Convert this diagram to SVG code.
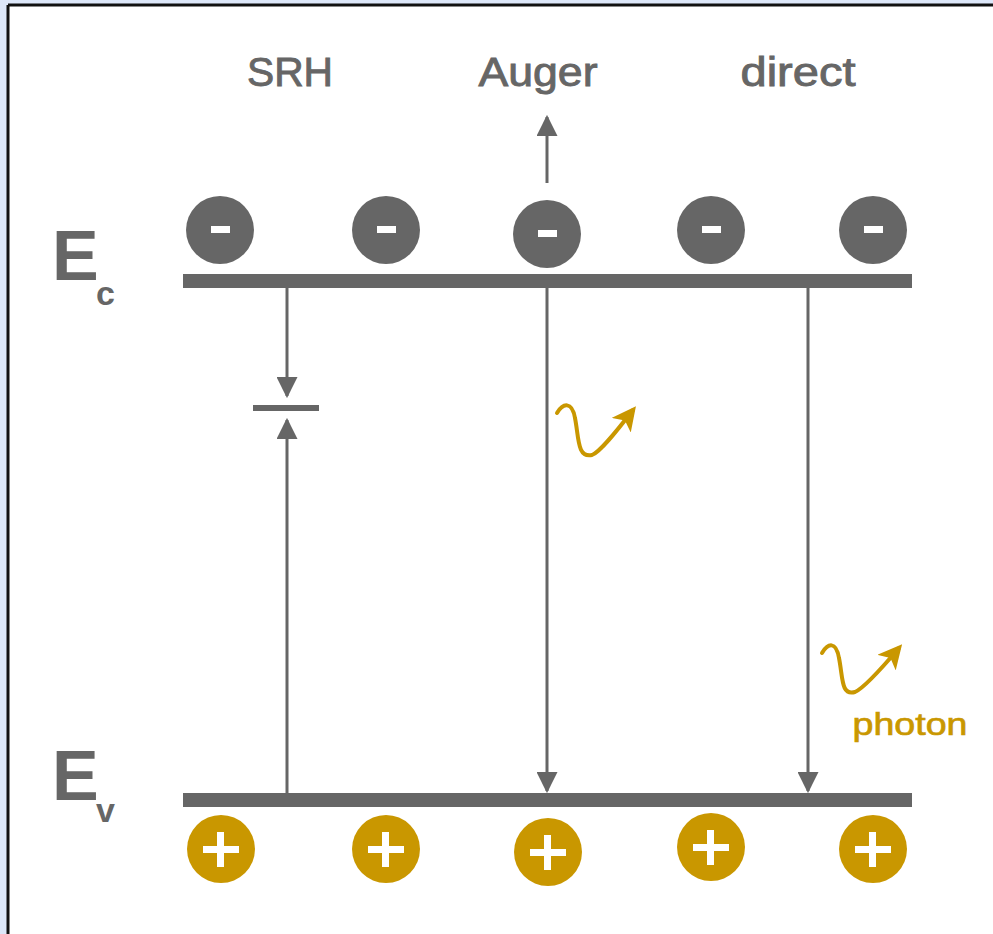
<svg xmlns="http://www.w3.org/2000/svg" width="993" height="934" viewBox="0 0 993 934">
<defs>
<style>
.lbl{font-family:"Liberation Sans",Arial,sans-serif;fill:#666;}
.top{stroke:#666;stroke-width:0.9;}
.bar{fill:#666;}
.el{fill:#666;}
.hole{fill:#c99700;}
.wht{fill:#fff;}
.ln{stroke:#666;stroke-width:3;fill:none;}
.ph{stroke:#c99700;stroke-width:4;fill:none;stroke-linecap:round;stroke-linejoin:round;}
</style>
<marker id="ah" viewBox="0 0 10 10" refX="9" refY="5" markerWidth="7" markerHeight="7" markerUnits="strokeWidth" orient="auto">
<path d="M0,0 L10,5 L0,10 Z" fill="#666"/>
</marker>
<marker id="ahp" viewBox="0 0 10 10" refX="8" refY="5" markerWidth="6" markerHeight="6" markerUnits="strokeWidth" orient="auto">
<path d="M0,0 L10,5 L0,10 L2.5,5 Z" fill="#c99700"/>
</marker>
</defs>
<rect x="0" y="0" width="993" height="934" fill="#dde7f9"/>
<rect x="8" y="5" width="985" height="929" fill="#fff"/>
<line x1="8" y1="5" x2="993" y2="5" stroke="#111" stroke-width="3"/>
<line x1="8" y1="5" x2="8" y2="934" stroke="#111" stroke-width="3"/>

<g id="labels">
<text class="lbl top" x="290" y="86" font-size="40" text-anchor="middle" textLength="86" lengthAdjust="spacingAndGlyphs">SRH</text>
<text class="lbl top" x="538" y="86" font-size="40" text-anchor="middle" textLength="119" lengthAdjust="spacingAndGlyphs">Auger</text>
<text class="lbl top" x="798" y="86" font-size="40" text-anchor="middle" textLength="115" lengthAdjust="spacingAndGlyphs">direct</text>
</g>

<g id="Ec">
<rect class="bar" x="183" y="274" width="729" height="14"/>
<text class="lbl" x="52" y="280" font-size="70" font-weight="bold">E</text>
<text class="lbl" x="96" y="305" font-size="34" font-weight="bold">c</text>
</g>
<g id="Ev">
<rect class="bar" x="183" y="793" width="729" height="14"/>
<text class="lbl" x="52" y="800" font-size="70" font-weight="bold">E</text>
<text class="lbl" x="96" y="822" font-size="34" font-weight="bold">v</text>
</g>

<g id="electrons">
<g id="e1"><circle class="el" cx="220" cy="230" r="34"/><rect class="wht" x="211" y="226" width="19" height="7"/></g>
<g id="e2"><circle class="el" cx="386" cy="230" r="34"/><rect class="wht" x="377" y="226" width="19" height="7"/></g>
<g id="e3"><circle class="el" cx="547" cy="234" r="34"/><rect class="wht" x="538" y="230" width="19" height="7"/></g>
<g id="e4"><circle class="el" cx="711" cy="230" r="34"/><rect class="wht" x="702" y="226" width="19" height="7"/></g>
<g id="e5"><circle class="el" cx="873" cy="230" r="34"/><rect class="wht" x="864" y="226" width="19" height="7"/></g>
</g>

<g id="holes">
<g id="h1"><circle class="hole" cx="221" cy="849" r="34"/><rect class="wht" x="203" y="846" width="36" height="7"/><rect class="wht" x="217" y="832" width="7" height="35"/></g>
<g id="h2"><circle class="hole" cx="386" cy="849" r="34"/><rect class="wht" x="368" y="846" width="36" height="7"/><rect class="wht" x="382" y="832" width="7" height="35"/></g>
<g id="h3"><circle class="hole" cx="548" cy="852" r="34"/><rect class="wht" x="530" y="849" width="36" height="7"/><rect class="wht" x="544" y="835" width="7" height="35"/></g>
<g id="h4"><circle class="hole" cx="711" cy="847" r="34"/><rect class="wht" x="693" y="844" width="36" height="7"/><rect class="wht" x="707" y="830" width="7" height="35"/></g>
<g id="h5"><circle class="hole" cx="873" cy="849" r="34"/><rect class="wht" x="855" y="846" width="36" height="7"/><rect class="wht" x="869" y="832" width="7" height="35"/></g>
</g>

<g id="trap"><rect class="bar" x="253" y="405" width="66" height="6"/></g>

<g id="connectors">
<line class="ln" x1="287" y1="288" x2="287" y2="396" marker-end="url(#ah)"/>
<line class="ln" x1="287" y1="793" x2="287" y2="420" marker-end="url(#ah)"/>
<line class="ln" x1="547" y1="183" x2="547" y2="117" marker-end="url(#ah)"/>
<line class="ln" x1="547" y1="288" x2="547" y2="791" marker-end="url(#ah)"/>
<line class="ln" x1="808" y1="288" x2="808" y2="791" marker-end="url(#ah)"/>
</g>

<g id="photon1">
<path class="ph" d="M557,413 C563,403 572,401 575,418 C579,438 577,458 592,455 C600,452 616,432 633,410" marker-end="url(#ahp)"/>
</g>
<g id="photon2">
<path class="ph" d="M822,653 C828,643 836,641 839,658 C843,678 841,696 855,692 C864,688 882,668 899,648" marker-end="url(#ahp)"/>
<text x="910" y="735" font-family="'Liberation Sans',Arial,sans-serif" font-size="32" fill="#c99700" stroke="#c99700" stroke-width="0.7" text-anchor="middle" textLength="115" lengthAdjust="spacingAndGlyphs">photon</text>
</g>
</svg>
